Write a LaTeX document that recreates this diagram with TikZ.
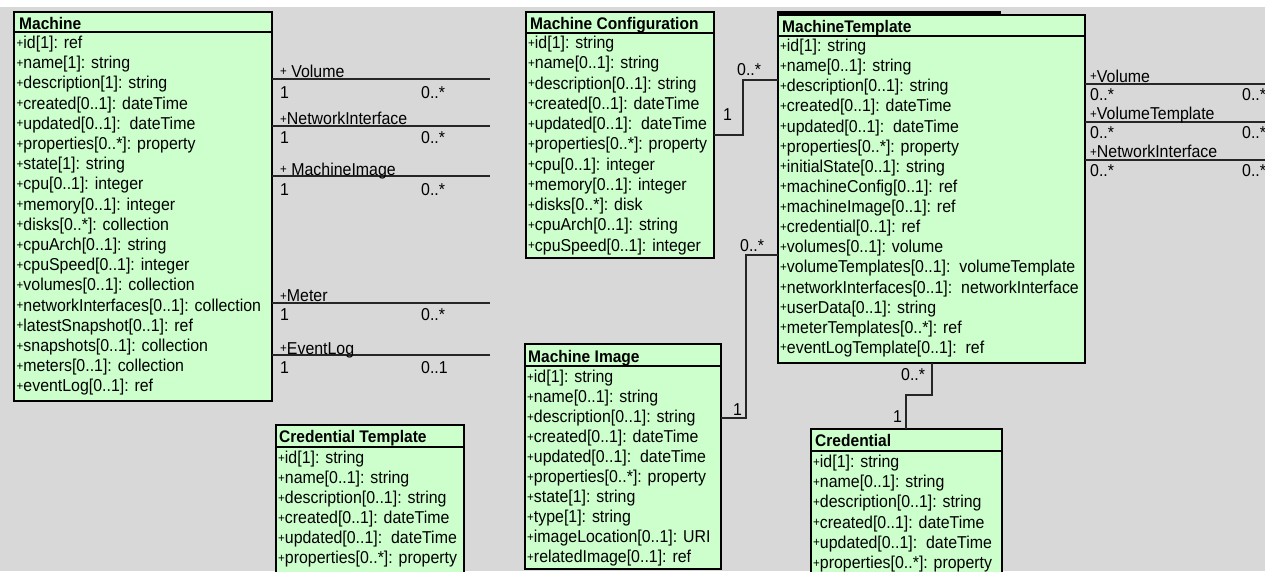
\documentclass[tikz,border=0pt]{standalone}
\usepackage{fontspec}
\setmainfont{Liberation Sans}[FakeStretch=0.925]
\usetikzlibrary{calc}
\definecolor{bg}{HTML}{D8D8D8}
\definecolor{cls}{HTML}{CCFFCC}
\newcommand\pl{{\fontsize{12.5}{12}\selectfont\raisebox{1.5pt}{+}}}
\tikzset{
  classbox/.style={draw=black, fill=cls, line width=2.4pt, inner sep=0pt, outer sep=0pt, anchor=north west},
  sepline/.style={line width=2pt},
  hdr/.style={font=\fontsize{16.8}{18}\selectfont\bfseries, anchor=base west, inner sep=0pt},
  attr/.style={font=\fontsize{17.2}{18}\selectfont, anchor=base west, inner sep=0pt},
  lbl/.style={font=\fontsize{17.2}{18}\selectfont, anchor=base west, inner sep=0pt},
  conn/.style={line width=1.8pt, black!85},
}
\begin{document}
\begin{tikzpicture}[x=1pt,y=-1pt]
\clip (0,0) rectangle (1265,571);
\useasboundingbox (0,0) rectangle (1265,571);
\fill[bg] (0,0) rectangle (1265,571);
\fill[white] (0,0) rectangle (1265,7);

% ---------- Machine ----------
\node[classbox, minimum width=258pt, minimum height=389pt] (machine) at (14,12) {};
\draw[sepline] (machine.west |- 0,32) -- (machine.east |- 0,32);
\node[hdr] (machine-h) at (19,29) {Machine};
\foreach \t [count=\i from 0] in {id[1]: ref, name[1]: string, description[1]: string, created[0..1]: dateTime, updated[0..1]:\hspace{3pt} dateTime, properties[0..*]: property, state[1]: string, cpu[0..1]: integer, memory[0..1]: integer, disks[0..*]: collection, cpuArch[0..1]: string, cpuSpeed[0..1]: integer, volumes[0..1]: collection, networkInterfaces[0..1]: collection, latestSnapshot[0..1]: ref, snapshots[0..1]: collection, meters[0..1]: collection, eventLog[0..1]: ref}
  \node[attr] (machine-\i) at ({16.5},{48.5+20.2*\i}) {\pl\t};

% ---------- Machine Configuration ----------
\node[classbox, minimum width=188pt, minimum height=246pt] (mc) at (526,12) {};
\draw[sepline] (mc.west |- 0,33) -- (mc.east |- 0,33);
\node[hdr] (mc-h) at (530,29) {Machine Configuration};
\foreach \t [count=\i from 0] in {id[1]: string, name[0..1]: string, description[0..1]: string, created[0..1]: dateTime, updated[0..1]:\hspace{3pt} dateTime, properties[0..*]: property, cpu[0..1]: integer, memory[0..1]: integer, disks[0..*]: disk, cpuArch[0..1]: string, cpuSpeed[0..1]: integer}
  \node[attr] (mc-\i) at ({528},{48.5+20.25*\i}) {\pl\t};

% ---------- MachineTemplate ----------
\fill (777,10.5) rectangle (1001,13.5);
\node[classbox, minimum width=307pt, minimum height=348pt] (mt) at (778,15) {};
\draw[sepline] (mt.west |- 0,36) -- (mt.east |- 0,36);
\node[hdr] (mt-h) at (782,32) {MachineTemplate};
\foreach \t [count=\i from 0] in {id[1]: string, name[0..1]: string, description[0..1]: string, created[0..1]: dateTime, updated[0..1]:\hspace{3pt} dateTime, properties[0..*]: property, initialState[0..1]: string, machineConfig[0..1]: ref, machineImage[0..1]: ref, credential[0..1]: ref, volumes[0..1]: volume, volumeTemplates[0..1]:\hspace{3pt} volumeTemplate, networkInterfaces[0..1]:\hspace{3pt} networkInterface, userData[0..1]: string, meterTemplates[0..*]: ref, eventLogTemplate[0..1]:\hspace{3pt} ref}
  \node[attr] (mt-\i) at ({780},{51.5+20.13*\i}) {\pl\t};

% ---------- Machine Image ----------
\node[classbox, minimum width=196pt, minimum height=225pt] (mi) at (525,344) {};
\draw[sepline] (mi.west |- 0,366) -- (mi.east |- 0,366);
\node[hdr] (mi-h) at (528,362) {Machine Image};
\foreach \t [count=\i from 0] in {id[1]: string, name[0..1]: string, description[0..1]: string, created[0..1]: dateTime, updated[0..1]:\hspace{3pt} dateTime, properties[0..*]: property, state[1]: string, type[1]: string, imageLocation[0..1]: URI, relatedImage[0..1]: ref}
  \node[attr] (mi-\i) at ({527},{382.5+20*\i}) {\pl\t};

% ---------- Credential Template ----------
\node[classbox, minimum width=188pt, minimum height=160pt] (ct) at (276,425) {};
\draw[sepline] (ct.west |- 0,447) -- (ct.east |- 0,447);
\node[hdr] (ct-h) at (279,442) {Credential Template};
\foreach \t [count=\i from 0] in {id[1]: string, name[0..1]: string, description[0..1]: string, created[0..1]: dateTime, updated[0..1]:\hspace{3pt} dateTime, properties[0..*]: property}
  \node[attr] (ct-\i) at ({278},{463.5+20*\i}) {\pl\t};

% ---------- Credential ----------
\node[classbox, minimum width=191pt, minimum height=160pt] (cred) at (811,429) {};
\draw[sepline] (cred.west |- 0,451) -- (cred.east |- 0,451);
\node[hdr] (cred-h) at (815,446) {Credential};
\foreach \t [count=\i from 0] in {id[1]: string, name[0..1]: string, description[0..1]: string, created[0..1]: dateTime, updated[0..1]:\hspace{3pt} dateTime, properties[0..*]: property}
  \node[attr] (cred-\i) at ({813},{467.5+20.2*\i}) {\pl\t};

% ---------- Machine associations (left) ----------
\coordinate (volE) at (490,79);
\coordinate (niE) at (490,126);
\coordinate (imgE) at (490,176);
\coordinate (metE) at (490,303);
\coordinate (evE) at (490,355);
\draw[conn] (machine.east |- volE) -- (volE);
\draw[conn] (machine.east |- niE) -- (niE);
\draw[conn] (machine.east |- imgE) -- (imgE);
\draw[conn] (machine.east |- metE) -- (metE);
\draw[conn] (machine.east |- evE) -- (evE);
\node[lbl] (vol-l) at (280,77) {\pl\ Volume};
\node[lbl] (vol-a) at (280,98.5) {1};
\node[lbl] (vol-b) at (421,98.5) {0..*};
\node[lbl] (ni-l) at (280,124.5) {\pl NetworkInterface};
\node[lbl] (ni-a) at (280,143.5) {1};
\node[lbl] (ni-b) at (421,143.5) {0..*};
\node[lbl] (img-l) at (280,175) {\pl\ MachineImage};
\node[lbl] (img-a) at (280,195.5) {1};
\node[lbl] (img-b) at (421,195.5) {0..*};
\node[lbl] (met-l) at (280,301.5) {\pl Meter};
\node[lbl] (met-a) at (280,320.5) {1};
\node[lbl] (met-b) at (421,320.5) {0..*};
\node[lbl] (ev-l) at (280,354) {\pl EventLog};
\node[lbl] (ev-a) at (280,373.5) {1};
\node[lbl] (ev-b) at (421,373.5) {0..1};

% ---------- MachineTemplate associations (right) ----------
\coordinate (rvolE) at (1266,84);
\coordinate (rvtE) at (1266,122);
\coordinate (rniE) at (1266,160);
\draw[conn] (mt.east |- rvolE) -- (rvolE);
\draw[conn] (mt.east |- rvtE) -- (rvtE);
\draw[conn] (mt.east |- rniE) -- (rniE);
\node[lbl] (rvol-l) at (1090,82) {\pl Volume};
\node[lbl] (rvol-a) at (1090,100.5) {0..*};
\node[lbl] (rvol-b) at (1242,100.5) {0..*};
\node[lbl] (rvt-l) at (1090,119.5) {\pl VolumeTemplate};
\node[lbl] (rvt-a) at (1090,138.5) {0..*};
\node[lbl] (rvt-b) at (1242,138.5) {0..*};
\node[lbl] (rni-l) at (1090,157.5) {\pl NetworkInterface};
\node[lbl] (rni-a) at (1090,176.5) {0..*};
\node[lbl] (rni-b) at (1242,176.5) {0..*};

% ---------- MachineConfiguration -> MachineTemplate ----------
\coordinate (c1) at (743,135);
\coordinate (c2) at (743,80);
\draw[conn] (mc.east |- c1) -- (c1) -- (c2) -- (mt.west |- c2);
\node[lbl] (c-a) at (723,120.5) {1};
\node[lbl] (c-b) at (737,75) {0..*};

% ---------- MachineImage -> MachineTemplate ----------
\coordinate (c3) at (746,418);
\coordinate (c4) at (746,255);
\draw[conn] (mi.east |- c3) -- (c3) -- (c4) -- (mt.west |- c4);
\node[lbl] (i-a) at (733,415) {1};
\node[lbl] (i-b) at (740,251) {0..*};

% ---------- MachineTemplate -> Credential ----------
\coordinate (c5) at (932,395);
\coordinate (c6) at (906,395);
\draw[conn] (mt.south -| c5) -- (c5) -- (c6) -- (cred.north -| c6);
\node[lbl] (r-a) at (893,422.5) {1};
\node[lbl] (r-b) at (901,380.5) {0..*};
\end{tikzpicture}
\end{document}
